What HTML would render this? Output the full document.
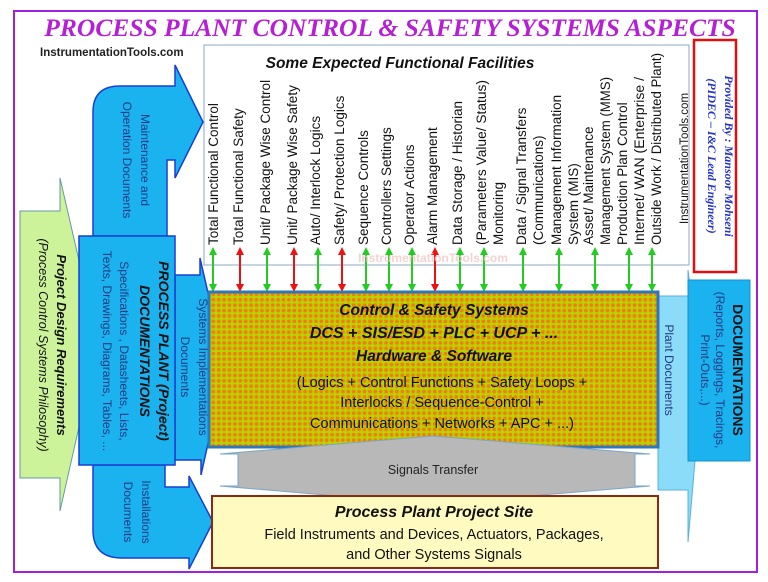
<!DOCTYPE html>
<html><head><meta charset="utf-8"><style>
html,body{margin:0;padding:0;background:#fff;}
svg{display:block;}
</style></head><body>
<svg width="768" height="582" viewBox="0 0 768 582" xmlns="http://www.w3.org/2000/svg" font-family="Liberation Sans, sans-serif">
<defs>
<pattern id="dots" width="5.4" height="5.4" patternUnits="userSpaceOnUse">
<rect width="5.4" height="5.4" fill="#b7d300"/>
<circle cx="2.7" cy="2.7" r="1.9" fill="#f37d12"/>
</pattern>
<marker id="ag" viewBox="0 0 10 10" refX="5" refY="5" markerWidth="4" markerHeight="4" orient="auto-start-reverse"><path d="M0,0 L10,5 L0,10 z" fill="#22cc22"/></marker>
<marker id="ar" viewBox="0 0 10 10" refX="5" refY="5" markerWidth="4" markerHeight="4" orient="auto-start-reverse"><path d="M0,0 L10,5 L0,10 z" fill="#ee1111"/></marker>
</defs>
<rect x="0" y="0" width="768" height="582" fill="#fff"/>
<rect x="14" y="11" width="743" height="561" fill="none" stroke="#a020e0" stroke-width="2"/>
<text x="390" y="36" text-anchor="middle" font-family="Liberation Serif, serif" font-weight="bold" font-style="italic" font-size="25.5" fill="#b61fd6">PROCESS PLANT CONTROL &amp; SAFETY  SYSTEMS ASPECTS</text>
<text x="40" y="56" font-weight="bold" font-size="11.5" fill="#222">InstrumentationTools.com</text>

<!-- top box -->
<rect x="204" y="45" width="485" height="220" fill="#fff" stroke="#8aa8c0" stroke-width="1"/>
<text x="400" y="68" text-anchor="middle" font-weight="bold" font-style="italic" font-size="15.5" fill="#111">Some Expected Functional Facilities</text>
<g font-size="13.5" fill="#111">
<text transform="translate(218,245) rotate(-90)">Total Functional Control</text>
<text transform="translate(243,245) rotate(-90)">Total Functional Safety</text>
<text transform="translate(270,245) rotate(-90)">Unit/ Package Wise Control</text>
<text transform="translate(297,245) rotate(-90)">Unit/ Package Wise Safety</text>
<text transform="translate(320,245) rotate(-90)">Auto/ Interlock Logics</text>
<text transform="translate(344,245) rotate(-90)">Safety/ Protection Logics</text>
<text transform="translate(368,245) rotate(-90)">Sequence Controls</text>
<text transform="translate(391,245) rotate(-90)">Controllers Settings</text>
<text transform="translate(414,245) rotate(-90)">Operator Actions</text>
<text transform="translate(437,245) rotate(-90)">Alarm Management</text>
<text transform="translate(462,245) rotate(-90)">Data Storage / Historian</text>
<text transform="translate(486,245) rotate(-90)" textLength="165" lengthAdjust="spacingAndGlyphs">(Parameters Value/ Status)</text>
<text transform="translate(503,245) rotate(-90)">Monitoring</text>
<text transform="translate(526,245) rotate(-90)">Data / Signal Transfers</text>
<text transform="translate(543,245) rotate(-90)">(Communications)</text>
<text transform="translate(561,245) rotate(-90)">Management Information</text>
<text transform="translate(578,245) rotate(-90)">System (MIS)</text>
<text transform="translate(593,245) rotate(-90)">Asset/ Maintenance</text>
<text transform="translate(610,245) rotate(-90)" textLength="168" lengthAdjust="spacingAndGlyphs">Management System (MMS)</text>
<text transform="translate(627,245) rotate(-90)">Production Plan Control</text>
<text transform="translate(644,245) rotate(-90)" textLength="168" lengthAdjust="spacingAndGlyphs">Internet/ WAN   (Enterprise /</text>
<text transform="translate(661,245) rotate(-90)" textLength="192" lengthAdjust="spacingAndGlyphs">Outside Work / Distributed Plant)</text>
<text transform="translate(688,224) rotate(-90)" font-size="11.5">InstrumentationTools.com</text>
</g>
<!-- arrows -->
<g stroke-width="2">
<line x1="213" y1="251" x2="213" y2="288" stroke="#22cc22" marker-start="url(#ag)" marker-end="url(#ag)"/>
<line x1="240" y1="251" x2="240" y2="288" stroke="#ee1111" marker-start="url(#ar)" marker-end="url(#ar)"/>
<line x1="267" y1="251" x2="267" y2="288" stroke="#22cc22" marker-start="url(#ag)" marker-end="url(#ag)"/>
<line x1="294" y1="251" x2="294" y2="288" stroke="#ee1111" marker-start="url(#ar)" marker-end="url(#ar)"/>
<line x1="318" y1="251" x2="318" y2="288" stroke="#22cc22" marker-start="url(#ag)" marker-end="url(#ag)"/>
<line x1="342" y1="251" x2="342" y2="288" stroke="#ee1111" marker-start="url(#ar)" marker-end="url(#ar)"/>
<line x1="366" y1="251" x2="366" y2="288" stroke="#22cc22" marker-start="url(#ag)" marker-end="url(#ag)"/>
<line x1="389" y1="251" x2="389" y2="288" stroke="#22cc22" marker-start="url(#ag)" marker-end="url(#ag)"/>
<line x1="412" y1="251" x2="412" y2="288" stroke="#22cc22" marker-start="url(#ag)" marker-end="url(#ag)"/>
<line x1="435" y1="251" x2="435" y2="288" stroke="#ee1111" marker-start="url(#ar)" marker-end="url(#ar)"/>
<line x1="460" y1="251" x2="460" y2="288" stroke="#22cc22" marker-start="url(#ag)" marker-end="url(#ag)"/>
<line x1="484" y1="251" x2="484" y2="288" stroke="#22cc22" marker-start="url(#ag)" marker-end="url(#ag)"/>
<line x1="523" y1="251" x2="523" y2="288" stroke="#22cc22" marker-start="url(#ag)" marker-end="url(#ag)"/>
<line x1="559" y1="251" x2="559" y2="288" stroke="#22cc22" marker-start="url(#ag)" marker-end="url(#ag)"/>
<line x1="595" y1="251" x2="595" y2="288" stroke="#22cc22" marker-start="url(#ag)" marker-end="url(#ag)"/>
<line x1="629" y1="251" x2="629" y2="288" stroke="#22cc22" marker-start="url(#ag)" marker-end="url(#ag)"/>
<line x1="652" y1="251" x2="652" y2="288" stroke="#22cc22" marker-start="url(#ag)" marker-end="url(#ag)"/>
</g>
<text x="433" y="262" text-anchor="middle" font-weight="bold" font-size="12" fill="#f2c8c8" opacity="0.8">InstrumentationTools.com</text>

<!-- Provided by -->
<rect x="694" y="40" width="42" height="232" fill="#fff" stroke="#dd1111" stroke-width="2.5"/>
<g font-family="Liberation Serif, serif" font-weight="bold" font-style="italic" font-size="12" fill="#2233cc" text-anchor="middle">
<text transform="translate(725,156) rotate(90)">Provided By : Mansoor Mohseni</text>
<text transform="translate(708,156) rotate(90)">(PIDEC – I&amp;C Lead Engineer)</text>
</g>

<!-- green arrow -->
<path d="M20,211 L60,211 L60,178 L98,343 L60,511 L60,478 L20,478 Z" fill="#ccf29a" stroke="#6a9aa0" stroke-width="1"/>
<g font-style="italic" fill="#111" text-anchor="middle">
<text transform="translate(57,345) rotate(90)" font-weight="bold" font-size="13">Project Design Requirements</text>
<text transform="translate(39,345) rotate(90)" font-size="12.5">(Process Control Systems Philosophy)</text>
</g>

<!-- maintenance arrow -->
<path d="M93,236 L93,112 Q93,86 120,86 L175,86 L175,65 L203,122 L175,178 L175,160 L167,160 L167,236 Z" fill="#1ab2ef" stroke="#1a3fd0" stroke-width="1.5"/>
<g font-size="12" fill="#223a80" text-anchor="middle">
<text transform="translate(141,160) rotate(90)">Maintenance and</text>
<text transform="translate(123,160) rotate(90)">Operation Documents</text>
</g>

<!-- installations arrow -->
<path d="M93,465 L165,465 L165,487 L189,487 L189,476 L213,522 L189,569 L189,558 L122,558 Q93,558 93,530 Z" fill="#1ab2ef" stroke="#1a3fd0" stroke-width="1.5"/>
<g font-size="12" fill="#223a80" text-anchor="middle">
<text transform="translate(142,512) rotate(90)">Installations</text>
<text transform="translate(124,512) rotate(90)">Documents</text>
</g>

<!-- systems implementations arrow -->
<path d="M175,275 L200,275 L200,258 L225,367 L201,475 L201,460 L175,460 Z" fill="#1ab2ef" stroke="#1a3fd0" stroke-width="1.5"/>
<g font-size="12" fill="#223a80" text-anchor="middle">
<text transform="translate(199,367) rotate(90)">Systems Implementations</text>
<text transform="translate(181,367) rotate(90)">Documents</text>
</g>

<!-- project documentation box -->
<rect x="79" y="236" width="96" height="229" fill="#1ab2ef" stroke="#1a3fd0" stroke-width="1.5"/>
<g fill="#111" text-anchor="middle">
<text transform="translate(159,351) rotate(90)" font-weight="bold" font-style="italic" font-size="14">PROCESS PLANT (Project)</text>
<text transform="translate(140,351) rotate(90)" font-weight="bold" font-style="italic" font-size="14">DOCUMENTATIONS</text>
<text transform="translate(120,351) rotate(90)" font-size="12" fill="#223a80">Specifications , Datasheets, Lists,</text>
<text transform="translate(103,351) rotate(90)" font-size="12" fill="#223a80">Texts, Drawings, Diagrams, Tables, ...</text>
</g>

<!-- plant documents light arrow -->
<path d="M658,296 L688,296 L688,270 L702,380 L688,542 L688,490 L658,490 Z" fill="#8adcf8" stroke="#5ab0d8" stroke-width="1"/>
<text transform="translate(665,370) rotate(90)" text-anchor="middle" font-size="12" fill="#223a80">Plant Documents</text>

<!-- DOCUMENTATIONS box -->
<rect x="688" y="280" width="62" height="181" fill="#1ab2ef" stroke="#1a8fd0" stroke-width="1"/>
<g text-anchor="middle">
<text transform="translate(733,370) rotate(90)" font-weight="bold" font-size="14" fill="#111">DOCUMENTATIONS</text>
<text transform="translate(716,370) rotate(90)" font-size="12" fill="#223a80">(Reports, Loggings, Tracings,</text>
<text transform="translate(701,370) rotate(90)" font-size="12" fill="#223a80">Print-Outs,...)</text>
</g>

<!-- central box -->
<rect x="209" y="292" width="449" height="155" fill="url(#dots)" stroke="#2f78b8" stroke-width="3"/>
<g text-anchor="middle" fill="#111">
<text x="434" y="315" font-weight="bold" font-style="italic" font-size="15.5">Control &amp; Safety Systems</text>
<text x="434" y="338" font-weight="bold" font-style="italic" font-size="16">DCS + SIS/ESD + PLC + UCP + ...</text>
<text x="434" y="361" font-weight="bold" font-style="italic" font-size="15.5">Hardware &amp; Software</text>
<text x="442" y="387" font-size="14.5">(Logics + Control Functions + Safety Loops +</text>
<text x="442" y="407" font-size="14.5">Interlocks / Sequence-Control +</text>
<text x="442" y="428" font-size="14.5">Communications + Networks + APC + ...)</text>
</g>

<!-- gray signals transfer -->
<path d="M433,436 L650,454 L635,454 L635,486 L650,486 L433,504 L220,486 L238,486 L238,454 L220,454 Z" fill="#b8b8b8" stroke="#7aa6c8" stroke-width="1"/>
<text x="433" y="474" text-anchor="middle" font-size="12.5" fill="#222">Signals Transfer</text>

<!-- site box -->
<rect x="212" y="496" width="446" height="72" fill="#fffbc0" stroke="#8b2a10" stroke-width="2"/>
<g text-anchor="middle" fill="#111">
<text x="434" y="517" font-weight="bold" font-style="italic" font-size="16">Process Plant Project Site</text>
<text x="434" y="539" font-size="14.5">Field Instruments and Devices, Actuators, Packages,</text>
<text x="434" y="559" font-size="14.5">and Other Systems Signals</text>
</g>
</svg>
</body></html>
